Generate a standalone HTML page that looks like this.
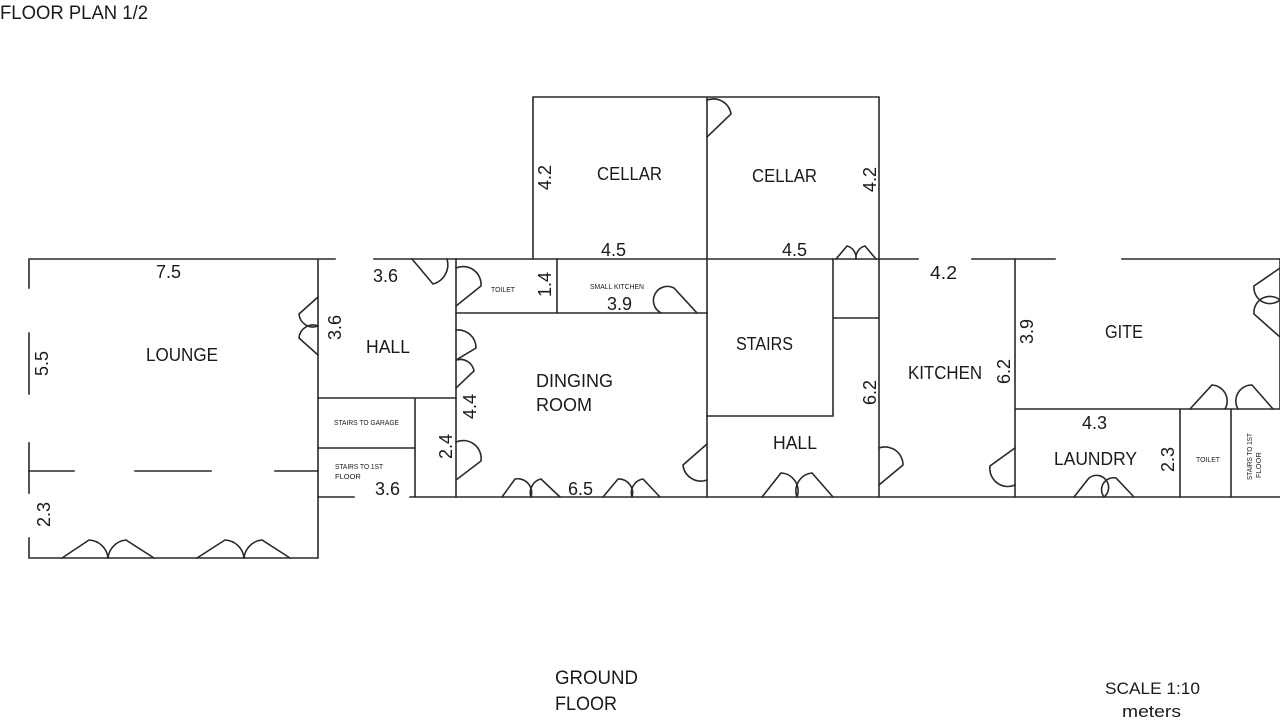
<!DOCTYPE html>
<html><head><meta charset="utf-8"><style>
html,body{margin:0;padding:0;background:#fff;}
svg{display:block;}
text{font-family:"Liberation Sans",sans-serif;fill:#1a1a1a;}
</style></head><body>
<svg width="1280" height="720" viewBox="0 0 1280 720" xmlns="http://www.w3.org/2000/svg">
<g stroke="#2a2a2a" stroke-width="1.6" fill="none" stroke-linecap="square">
<path d="M29 259H335M29 259V288M29 333V394M29 443V493M29 538V558H318V259"/>
<path d="M29 471H74M135 471H211M275 471H318"/>
<path d="M62 558L89 540A20 20 0 0 1 108 558M154 558L126 540A20 20 0 0 0 108 558"/>
<path d="M197 558L225 540A20 20 0 0 1 244 558M290 558L262 540A20 20 0 0 0 244 558"/>
<path d="M318 297L299 314A14 14 0 0 0 318 326M318 355L299 338A14 14 0 0 1 318 326"/>
<path d="M374 259H456M318 398H456M318 448H415M415 398V497M318 497H354M410 497H1280"/>
<path d="M412 259L433 284A20 20 0 0 0 447 259"/>
<path d="M456 259V497"/>
<path d="M456 268A18 18 0 0 1 481 286L456 306"/>
<path d="M456 330A18 18 0 0 1 476 348L456 360"/>
<path d="M456 360A14 14 0 0 1 474 371L456 388"/>
<path d="M456 442A18 18 0 0 1 481 461L456 480"/>
<path d="M533 259V97H879V259M707 97V497"/>
<path d="M707 100A18 18 0 0 1 731 114L707 137"/>
<path d="M836 259L847 246A12 12 0 0 1 856 259M876 259L865 246A12 12 0 0 0 856 259"/>
<path d="M456 259H918M972 259H1055M1122 259H1280"/>
<path d="M456 313H707M557 259V313"/>
<path d="M661 313A14 14 0 0 1 674 288L697 313"/>
<path d="M502 497L515 479A14 14 0 0 1 531 497M560 497L541 479A14 14 0 0 0 531 497"/>
<path d="M603 497L618 479A14 14 0 0 1 632 497M660 497L643 479A14 14 0 0 0 632 497"/>
<path d="M707 444L683 465A18 18 0 0 0 707 480"/>
<path d="M707 416H833V259M833 318H879M879 259V497"/>
<path d="M762 497L781 473A18 18 0 0 1 797 497M833 497L812 473A18 18 0 0 0 797 497"/>
<path d="M879 448A18 18 0 0 1 903 465L879 485"/>
<path d="M1015 259V497M1015 409H1280M1280 259V409M1180 409V497M1231 409V497"/>
<path d="M1015 448L990 466A18 18 0 0 0 1015 485"/>
<path d="M1280 268L1254 286A16 16 0 0 0 1280 300M1280 337L1254 314A16 16 0 0 1 1280 300"/>
<path d="M1190 409L1212 385A16 16 0 0 1 1225 409M1273 409L1252 385A16 16 0 0 0 1238 409"/>
<path d="M1074 497L1089 478A12 12 0 0 1 1104 497M1134 497L1116 478A12 12 0 0 0 1104 497"/>
</g>
<text x="0" y="19" font-size="19" textLength="148" lengthAdjust="spacingAndGlyphs">FLOOR PLAN 1/2</text>
<g font-size="18">
<text x="156" y="278" textLength="25" lengthAdjust="spacingAndGlyphs">7.5</text>
<text x="146" y="361" textLength="72" lengthAdjust="spacingAndGlyphs">LOUNGE</text>
<text x="373" y="282" textLength="25" lengthAdjust="spacingAndGlyphs">3.6</text>
<text x="366" y="353" textLength="44" lengthAdjust="spacingAndGlyphs">HALL</text>
<text x="375" y="495" textLength="25" lengthAdjust="spacingAndGlyphs">3.6</text>
<text x="597" y="180" textLength="65" lengthAdjust="spacingAndGlyphs">CELLAR</text>
<text x="752" y="182" textLength="65" lengthAdjust="spacingAndGlyphs">CELLAR</text>
<text x="601" y="256" textLength="25" lengthAdjust="spacingAndGlyphs">4.5</text>
<text x="782" y="256" textLength="25" lengthAdjust="spacingAndGlyphs">4.5</text>
<text x="607" y="310" textLength="25" lengthAdjust="spacingAndGlyphs">3.9</text>
<text x="536" y="387" textLength="77" lengthAdjust="spacingAndGlyphs">DINGING</text>
<text x="536" y="411" textLength="56" lengthAdjust="spacingAndGlyphs">ROOM</text>
<text x="568" y="495" textLength="25" lengthAdjust="spacingAndGlyphs">6.5</text>
<text x="736" y="350" textLength="57" lengthAdjust="spacingAndGlyphs">STAIRS</text>
<text x="773" y="449" textLength="44" lengthAdjust="spacingAndGlyphs">HALL</text>
<text x="930" y="279" textLength="27" lengthAdjust="spacingAndGlyphs">4.2</text>
<text x="908" y="379" textLength="74" lengthAdjust="spacingAndGlyphs">KITCHEN</text>
<text x="1105" y="338" textLength="38" lengthAdjust="spacingAndGlyphs">GITE</text>
<text x="1082" y="429" textLength="25" lengthAdjust="spacingAndGlyphs">4.3</text>
<text x="1054" y="465" textLength="83" lengthAdjust="spacingAndGlyphs">LAUNDRY</text>
<text x="555" y="684" font-size="19" textLength="83" lengthAdjust="spacingAndGlyphs">GROUND</text>
<text x="555" y="710" font-size="19" textLength="62" lengthAdjust="spacingAndGlyphs">FLOOR</text>
<text x="1105" y="694" font-size="17" textLength="95" lengthAdjust="spacingAndGlyphs">SCALE 1:10</text>
<text x="1122" y="717" font-size="17" textLength="59" lengthAdjust="spacingAndGlyphs">meters</text>
</g>
<g font-size="18">
<text transform="translate(48,376) rotate(-90)" textLength="25" lengthAdjust="spacingAndGlyphs">5.5</text>
<text transform="translate(50,527) rotate(-90)" textLength="25" lengthAdjust="spacingAndGlyphs">2.3</text>
<text transform="translate(341,340) rotate(-90)" textLength="25" lengthAdjust="spacingAndGlyphs">3.6</text>
<text transform="translate(452,459) rotate(-90)" textLength="25" lengthAdjust="spacingAndGlyphs">2.4</text>
<text transform="translate(476,419) rotate(-90)" textLength="25" lengthAdjust="spacingAndGlyphs">4.4</text>
<text transform="translate(551,190) rotate(-90)" textLength="25" lengthAdjust="spacingAndGlyphs">4.2</text>
<text transform="translate(876,192) rotate(-90)" textLength="25" lengthAdjust="spacingAndGlyphs">4.2</text>
<text transform="translate(551,297) rotate(-90)" textLength="25" lengthAdjust="spacingAndGlyphs">1.4</text>
<text transform="translate(876,405) rotate(-90)" textLength="25" lengthAdjust="spacingAndGlyphs">6.2</text>
<text transform="translate(1010,384) rotate(-90)" textLength="25" lengthAdjust="spacingAndGlyphs">6.2</text>
<text transform="translate(1033,344) rotate(-90)" textLength="25" lengthAdjust="spacingAndGlyphs">3.9</text>
<text transform="translate(1174,472) rotate(-90)" textLength="25" lengthAdjust="spacingAndGlyphs">2.3</text>
</g>
<g font-size="7.5">
<text x="334" y="425" textLength="65" lengthAdjust="spacingAndGlyphs">STAIRS TO GARAGE</text>
<text x="335" y="469" textLength="48" lengthAdjust="spacingAndGlyphs">STAIRS TO 1ST</text>
<text x="335" y="479">FLOOR</text>
<text x="491" y="292" textLength="24" lengthAdjust="spacingAndGlyphs">TOILET</text>
<text x="590" y="289" textLength="54" lengthAdjust="spacingAndGlyphs">SMALL KITCHEN</text>
<text x="1196" y="462" textLength="24" lengthAdjust="spacingAndGlyphs">TOILET</text>
<text transform="translate(1252,480) rotate(-90)" textLength="47" lengthAdjust="spacingAndGlyphs">STAIRS TO 1ST</text>
<text transform="translate(1261,478) rotate(-90)">FLOOR</text>
</g>
</svg>
</body></html>
